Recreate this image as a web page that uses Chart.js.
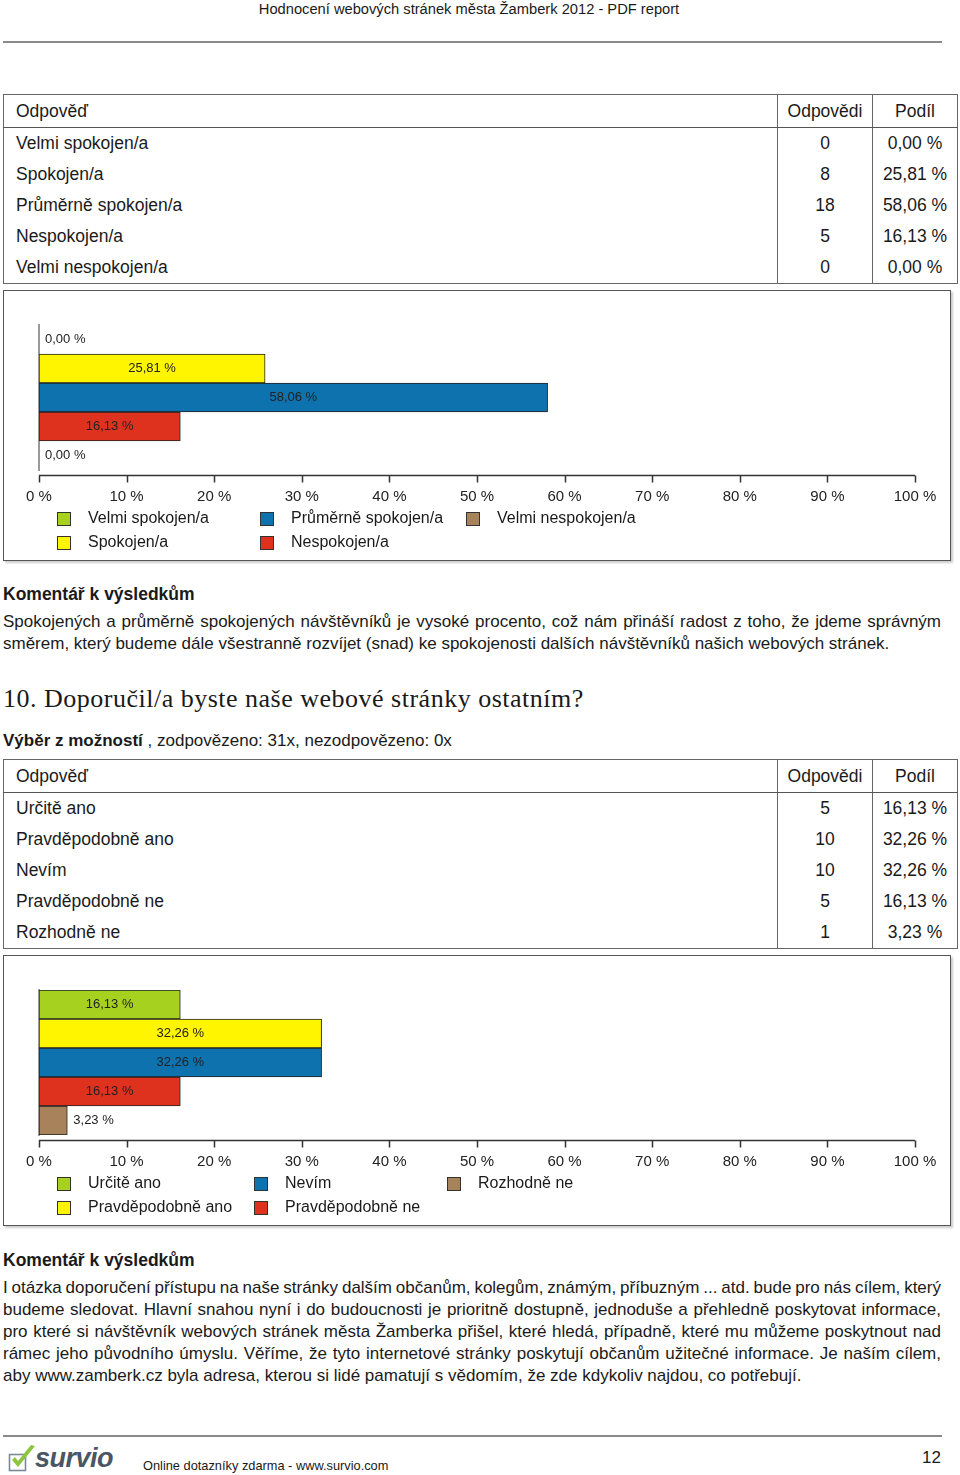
<!DOCTYPE html>
<html lang="cs">
<head>
<meta charset="utf-8">
<title>Hodnocení webových stránek města Žamberk 2012</title>
<script src="https://cdn.jsdelivr.net/npm/chart.js@4/dist/chart.umd.min.js"></script>
<style>
  html, body { margin: 0; padding: 0; background: #fff; }
  body { width: 960px; height: 1475px; position: relative; overflow: hidden;
         font-family: "Liberation Sans", Arial, sans-serif; color: #1a1a1a; }
  .abs { position: absolute; white-space: nowrap; }
  .hline { position: absolute; background: #8a8a8a; }
  .box { position: absolute; border: 1px solid #555; box-shadow: 2px 2px 2px #ccc; background: #fff; }
  table.res { position: absolute; left: 3px; width: 954px; border-collapse: collapse; table-layout: fixed;
              font-size: 17.5px; border: 1px solid #666; }
  table.res td { padding: 0 12px; height: 31px; line-height: 31px; white-space: nowrap; }
  table.res tr.head td { height: 32px; border-bottom: 1px solid #555; }
  table.res td.n { text-align: center; border-left: 1px solid #666; padding: 0; }
  table.res td.p { text-align: center; border-left: 1px solid #666; padding: 0; }
  canvas { position: absolute; left: 0; }
  .leg { position: absolute; font-size: 16px; white-space: nowrap; }
  .leg span.sq { position: absolute; width: 12px; height: 12px; border: 1px solid #333; }
  .leg span.tx { position: absolute; line-height: 18px; }
  .h3 { font-weight: bold; font-size: 17.5px; }
  .para { position: absolute; left: 3px; width: 938px; font-size: 17px; }
  .para div { height: 22px; line-height: 22px; text-align: justify; text-align-last: justify;
              white-space: normal; word-spacing: -3px; overflow: hidden; }
  .para div.last { text-align-last: left; word-spacing: 0; }
</style>
</head>
<body>

<div class="abs" style="left:0;top:0;width:938px;text-align:center;font-size:14.7px;line-height:18px;">Hodnocení webových stránek města Žamberk 2012 - PDF report</div>
<div class="hline" style="left:3px;top:41px;width:939px;height:2px;"></div>

<table class="res" id="table1" style="top:94px;"></table>

<div class="box" style="left:3px;top:290px;width:946px;height:269px;"></div>
<canvas id="chart1" width="960" height="210" style="top:300px;"></canvas>
<div id="legend1"></div>

<div class="abs h3" style="left:3px;top:584px;">Komentář k výsledkům</div>
<div class="para" style="top:611px;">
  <div>Spokojených a průměrně spokojených návštěvníků je vysoké procento, což nám přináší radost z toho, že jdeme správným</div>
  <div class="last">směrem, který budeme dále všestranně rozvíjet (snad) ke spokojenosti dalších návštěvníků našich webových stránek.</div>
</div>

<div class="abs" style="left:3px;top:684px;font-family:'Liberation Serif','Times New Roman',serif;font-size:26px;line-height:30px;letter-spacing:0.5px;">10. Doporučil/a byste naše webové stránky ostatním?</div>
<div class="abs" style="left:3px;top:731px;font-size:17px;line-height:20px;"><b>Výběr z možností</b> , zodpovězeno: 31x, nezodpovězeno: 0x</div>

<table class="res" id="table2" style="top:759px;"></table>

<div class="box" style="left:3px;top:955px;width:946px;height:269px;"></div>
<canvas id="chart2" width="960" height="210" style="top:965px;"></canvas>
<div id="legend2"></div>

<div class="abs h3" style="left:3px;top:1250px;">Komentář k výsledkům</div>
<div class="para" style="top:1277px;">
  <div>I otázka doporučení přístupu na naše stránky dalším občanům, kolegům, známým, příbuzným ... atd. bude pro nás cílem, který</div>
  <div>budeme sledovat. Hlavní snahou nyní i do budoucnosti je prioritně dostupně, jednoduše a přehledně poskytovat informace,</div>
  <div>pro které si návštěvník webových stránek města Žamberka přišel, které hledá, případně, které mu můžeme poskytnout nad</div>
  <div>rámec jeho původního úmyslu. Věříme, že tyto internetové stránky poskytují občanům užitečné informace. Je naším cílem,</div>
  <div class="last">aby www.zamberk.cz byla adresa, kterou si lidé pamatují s vědomím, že zde kdykoliv najdou, co potřebují.</div>
</div>

<div class="hline" style="left:3px;top:1435px;width:939px;height:2px;"></div>
<svg class="abs" style="left:8px;top:1444px;" width="30" height="30" viewBox="0 0 30 30">
  <rect x="1.5" y="10.5" width="16" height="16" fill="none" stroke="#7a8a96" stroke-width="1.6"/>
  <path d="M4 16 L10 23 L27 2 L23 1 L10 17 L7 13 Z" fill="#8cc63f"/>
</svg>
<div class="abs" style="left:35px;top:1442px;font-size:27px;line-height:32px;font-weight:bold;font-style:italic;color:#4a5663;letter-spacing:-0.5px;">survio</div>
<div class="abs" style="left:143px;top:1458px;font-size:12.8px;line-height:16px;">Online dotazníky zdarma - www.survio.com</div>
<div class="abs" style="left:922px;top:1448px;font-size:17px;line-height:20px;">12</div>

<script>
// otázka 9
const q9Answers = ['Velmi spokojen/a', 'Spokojen/a', 'Průměrně spokojen/a', 'Nespokojen/a', 'Velmi nespokojen/a'];
const q9Counts = [0, 8, 18, 5, 0];
const q9Shares = [0, 25.81, 58.06, 16.13, 0];

// otázka 10
const q10Answers = ['Určitě ano', 'Pravděpodobně ano', 'Nevím', 'Pravděpodobně ne', 'Rozhodně ne'];
const q10Counts = [5, 10, 10, 5, 1];
const q10Shares = [16.13, 32.26, 32.26, 16.13, 3.23];

const barColors = ['#a6d21f', '#fff500', '#0d72ad', '#de321f', '#a7825b'];
const xTicks = [0, 10, 20, 30, 40, 50, 60, 70, 80, 90, 100];

const fmt = v => v.toFixed(2).replace('.', ',') + ' %';

let fillTable = (id, answers, counts, shares) => {
    const t = document.getElementById(id);
    let html = '<colgroup><col style="width:774px"><col style="width:95px"><col style="width:85px"></colgroup>';
    html += '<tr class="head"><td>Odpověď</td><td class="n">Odpovědi</td><td class="p">Podíl</td></tr>';
    answers.forEach((a, i) => {
        html += '<tr><td>' + a + '</td><td class="n">' + counts[i] + '</td><td class="p">' + fmt(shares[i]) + '</td></tr>';
    });
    t.innerHTML = html;
};

let fillLegend = (id, answers, cols, top) => {
    const el = document.getElementById(id);
    let html = '';
    answers.forEach((a, i) => {
        const left = cols[Math.floor(i / 2)];
        const y = top + (i % 2) * 24;
        html += '<div class="leg" style="left:' + left + 'px;top:' + y + 'px;">' +
            '<span class="sq" style="left:0;top:-6px;background:' + barColors[i] + '"></span>' +
            '<span class="tx" style="left:31px;top:-9px;">' + a + '</span></div>';
    });
    el.innerHTML = html;
};

// popisky hodnot u sloupců
const barLabels = {
    id: 'barLabels',
    afterDatasetsDraw(chart) {
        const ctx = chart.ctx;
        const meta = chart.getDatasetMeta(0);
        const values = chart.data.datasets[0].data;
        ctx.save();
        ctx.font = '13px "Liberation Sans", Arial, sans-serif';
        ctx.fillStyle = '#222';
        ctx.textBaseline = 'middle';
        meta.data.forEach((bar, i) => {
            const txt = fmt(values[i]);
            const w = ctx.measureText(txt).width;
            if (bar.x - bar.base > w + 16) {
                ctx.textAlign = 'center';
                ctx.fillText(txt, (bar.x + bar.base) / 2, bar.y);
            } else {
                ctx.textAlign = 'left';
                ctx.fillText(txt, bar.x + 6, bar.y);
            }
        });
        ctx.restore();
    }
};

// osa x kousek pod sloupci
const bottomAxis = {
    id: 'bottomAxis',
    afterDraw(chart) {
        const ctx = chart.ctx;
        const x = chart.scales.x;
        const y0 = chart.chartArea.bottom + 5.5;
        ctx.save();
        ctx.strokeStyle = '#333';
        ctx.lineWidth = 1.5;
        ctx.beginPath();
        ctx.moveTo(x.getPixelForValue(xTicks[0]), y0);
        ctx.lineTo(x.getPixelForValue(xTicks[xTicks.length - 1]), y0);
        x.ticks.forEach(t => {
            const px = Math.round(x.getPixelForValue(t.value)) + 0.5;
            ctx.moveTo(px, y0);
            ctx.lineTo(px, y0 + 7);
        });
        ctx.stroke();
        ctx.restore();
    }
};

let bar = (id, answers, shares) => {
    const ctx = document.getElementById(id);

    const dataset = {
        labels: answers,
        datasets: [{
            data: shares,
            backgroundColor: barColors,
            borderColor: '#222',
            borderWidth: 1,
            borderSkipped: false,
            barPercentage: 1,
            categoryPercentage: 1
        }]
    };

    const config = {
        type: 'bar',
        data: dataset,
        options: {
            indexAxis: 'y',
            responsive: false,
            animation: false,
            devicePixelRatio: 1,
            layout: { padding: { left: 39, right: 45, top: 25, bottom: 0 } },
            plugins: { legend: { display: false }, tooltip: { enabled: false } },
            scales: {
                x: {
                    min: xTicks[0],
                    max: xTicks[xTicks.length - 1],
                    afterBuildTicks: s => { s.ticks = xTicks.map(v => ({ value: v })); },
                    afterFit: s => { s.height = 40; },
                    grid: { display: false, drawTicks: false },
                    border: { display: false },
                    ticks: {
                        padding: 18,
                        color: '#222',
                        font: { family: '"Liberation Sans", Arial, sans-serif', size: 15 },
                        callback: v => v + ' %'
                    }
                },
                y: {
                    afterFit: s => { s.width = 0; },
                    grid: { display: false, drawTicks: false },
                    border: { display: true, color: '#999', width: 2 },
                    ticks: { display: false }
                }
            }
        },
        plugins: [barLabels, bottomAxis]
    };

    return new Chart(ctx, config);
};

fillTable('table1', q9Answers, q9Counts, q9Shares);
fillTable('table2', q10Answers, q10Counts, q10Shares);
bar('chart1', q9Answers, q9Shares);
bar('chart2', q10Answers, q10Shares);
fillLegend('legend1', q9Answers, [57, 260, 466], 518);
fillLegend('legend2', q10Answers, [57, 254, 447], 1183);
</script>
</body>
</html>
